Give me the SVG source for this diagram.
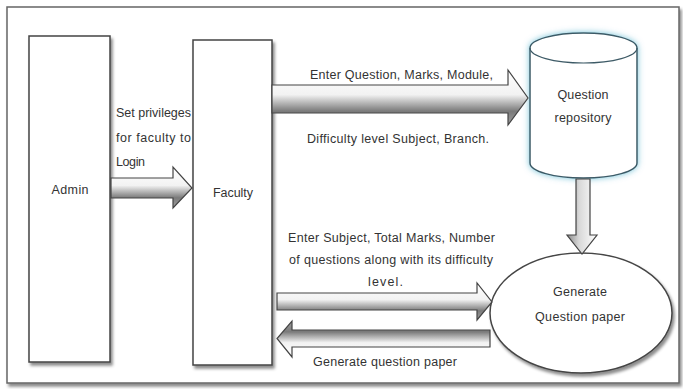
<svg xmlns="http://www.w3.org/2000/svg" width="683" height="389" viewBox="0 0 683 389">
<style>
  text { font-family: "Liberation Sans", Arial, sans-serif; font-size: 12.5px; fill: #333; }
  .box { fill: #fff; stroke: #444; stroke-width: 1.5; filter: url(#shadow); }
  .arrH { fill: url(#gH); stroke: #444; stroke-width: 1.2; stroke-linejoin: miter; }
  .arrHr { fill: url(#gHr); stroke: #444; stroke-width: 1.2; }
  .arrV { fill: url(#gV); stroke: #444; stroke-width: 1.2; }
</style>
<defs>
  <filter id="shadow" x="-20%" y="-20%" width="140%" height="140%">
    <feDropShadow dx="2" dy="3" stdDeviation="1.5" flood-color="#000" flood-opacity="0.45"/>
  </filter>
  <filter id="glow" x="-30%" y="-30%" width="160%" height="160%">
    <feDropShadow dx="0" dy="0" stdDeviation="3" flood-color="#6fc0d6" flood-opacity="0.95"/>
  </filter>
  <linearGradient id="gH" x1="0" y1="0" x2="0" y2="1">
    <stop offset="0" stop-color="#ffffff"/>
    <stop offset="0.45" stop-color="#f2f2f2"/>
    <stop offset="0.75" stop-color="#7a7a7a"/>
    <stop offset="1" stop-color="#a0a0a0"/>
  </linearGradient>
  <linearGradient id="gHr" x1="0" y1="0" x2="0" y2="1">
    <stop offset="0" stop-color="#a0a0a0"/>
    <stop offset="0.3" stop-color="#7a7a7a"/>
    <stop offset="0.6" stop-color="#f2f2f2"/>
    <stop offset="1" stop-color="#ffffff"/>
  </linearGradient>
  <linearGradient id="gV" x1="0" y1="0" x2="1" y2="0">
    <stop offset="0" stop-color="#8a8a8a"/>
    <stop offset="0.4" stop-color="#d8d8d8"/>
    <stop offset="1" stop-color="#ffffff"/>
  </linearGradient>
</defs>
<rect x="0" y="0" width="683" height="389" fill="#fff"/>
<rect id="frame" x="7" y="7" width="672" height="376" fill="#fff" stroke="#666" stroke-width="1.5" filter="url(#shadow)"/>

<g id="admin">
  <rect class="box" x="29" y="36" width="81" height="326"/>
  <text x="70" y="194" text-anchor="middle" textLength="37">Admin</text>
</g>
<g id="faculty">
  <rect class="box" x="193" y="40" width="79" height="325"/>
  <text x="233" y="197" text-anchor="middle" textLength="40">Faculty</text>
</g>
<g id="repository">
  <g filter="url(#glow)">
    <path d="M530,48 A53.5,15 0 0 1 637,48 L637,163 A53.5,15 0 0 1 530,163 Z" fill="#fff" stroke="#3d5a66" stroke-width="1.5"/>
  </g>
  <path d="M530,48 A53.5,15 0 0 0 637,48" fill="none" stroke="#3d5a66" stroke-width="1.2"/>
  <text x="583" y="99" text-anchor="middle" textLength="51">Question</text>
  <text x="583" y="122" text-anchor="middle" textLength="57">repository</text>
</g>
<g id="generate">
  <ellipse cx="581" cy="313" rx="91" ry="60" fill="#fff" stroke="#444" stroke-width="1.5" filter="url(#shadow)"/>
  <text x="580" y="296" text-anchor="middle" textLength="54">Generate</text>
  <text x="580" y="321" text-anchor="middle" textLength="90">Question paper</text>
</g>

<g id="connectors">
  <path class="arrH" d="M111,178 L173,178 L173,167 L192,188 L173,208 L173,198 L111,198 Z"/>
  <path class="arrH" d="M272,85 L508,85 L508,70 L528,98 L508,125 L508,113 L272,113 Z"/>
  <path class="arrV" d="M576,179 L590,179 L590,235 L597,235 L582,254 L567,235 L576,235 Z"/>
  <path class="arrH" d="M277,293 L477,293 L477,283 L492,302 L477,320 L477,310 L277,310 Z"/>
  <path class="arrHr" d="M490,330 L292,330 L292,321 L277,338.5 L292,357 L292,347 L490,347 Z"/>
  <text x="116" y="117" textLength="75">Set privileges</text>
  <text x="116" y="142" textLength="75">for faculty to</text>
  <text x="116" y="166" textLength="29">Login</text>
  <text x="310" y="79" textLength="183">Enter Question, Marks, Module,</text>
  <text x="307" y="143" textLength="182">Difficulty level Subject, Branch.</text>
  <text x="288" y="242" textLength="207">Enter Subject, Total Marks, Number</text>
  <text x="289" y="264" textLength="204">of questions along with its difficulty</text>
  <text x="368" y="286" textLength="35">level.</text>
  <text x="313" y="366" textLength="144">Generate question paper</text>
</g>
</svg>
